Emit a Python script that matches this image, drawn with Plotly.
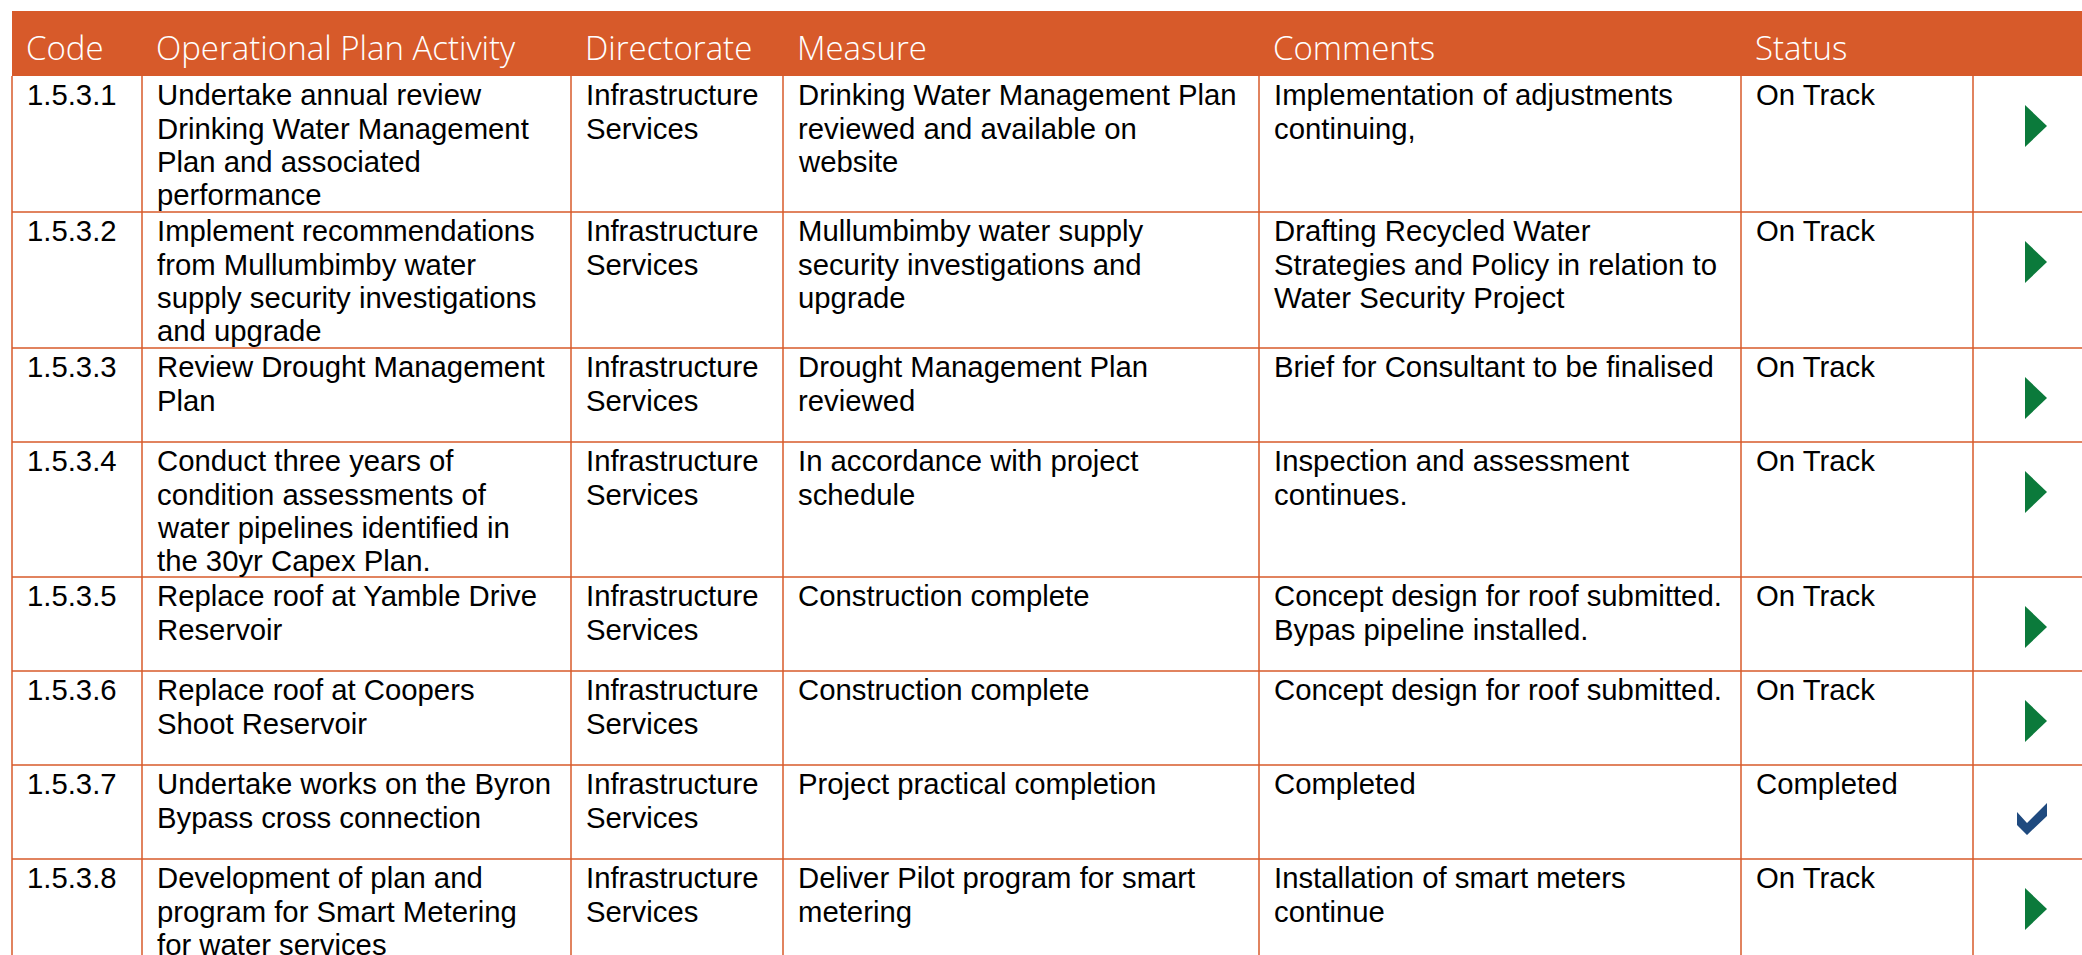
import plotly.graph_objects as go

# ---------------- data ----------------
headers = ["Code", "Operational Plan Activity", "Directorate", "Measure", "Comments", "Status"]
codes = ["1.5.3.1", "1.5.3.2", "1.5.3.3", "1.5.3.4", "1.5.3.5", "1.5.3.6", "1.5.3.7", "1.5.3.8"]
activities = [
    "Undertake annual review\nDrinking Water Management\nPlan and associated\nperformance",
    "Implement recommendations\nfrom Mullumbimby water\nsupply security investigations\nand upgrade",
    "Review Drought Management\nPlan",
    "Conduct three years of\ncondition assessments of\nwater pipelines identified in\nthe 30yr Capex Plan.",
    "Replace roof at Yamble Drive\nReservoir",
    "Replace roof at Coopers\nShoot Reservoir",
    "Undertake works on the Byron\nBypass cross connection",
    "Development of plan and\nprogram for Smart Metering\nfor water services",
]
directorates = ["Infrastructure\nServices"] * 8
measures = [
    "Drinking Water Management Plan\nreviewed and available on\nwebsite",
    "Mullumbimby water supply\nsecurity investigations and\nupgrade",
    "Drought Management Plan\nreviewed",
    "In accordance with project\nschedule",
    "Construction complete",
    "Construction complete",
    "Project practical completion",
    "Deliver Pilot program for smart\nmetering",
]
comments = [
    "Implementation of adjustments\ncontinuing,",
    "Drafting Recycled Water\nStrategies and Policy in relation to\nWater Security Project",
    "Brief for Consultant to be finalised",
    "Inspection and assessment\ncontinues.",
    "Concept design for roof submitted.\nBypas pipeline installed.",
    "Concept design for roof submitted.",
    "Completed",
    "Installation of smart meters\ncontinue",
]
statuses = ["On Track", "On Track", "On Track", "On Track", "On Track", "On Track", "Completed", "On Track"]

# ---------------- layout geometry (pixels) ----------------
W, H = 2082, 955
col_edges = [12, 142, 571, 783, 1259, 1741, 1973, 2082]
header_top, header_bottom = 11, 76
row_heights = [136, 136, 94, 135, 94, 94, 94, 136]
pad_x = 13
baseline_off = 29
line_pitch = 33.3
body_size = 29.3
header_size = 33

ORANGE = "#D75A2A"
GREEN = "#0B7A3B"
NAVY = "#1F4A7F"

row_tops = [header_bottom]
for h in row_heights:
    row_tops.append(row_tops[-1] + h)

fig = go.Figure()
shapes = []
annotations = []

# header band
shapes.append(dict(type="rect", xref="x", yref="y", x0=col_edges[0], x1=col_edges[-1],
                   y0=header_top, y1=header_bottom, fillcolor=ORANGE, line=dict(width=0), layer="below"))
for j, htxt in enumerate(headers):
    annotations.append(dict(x=col_edges[j] + pad_x - 1, y=60 - 0.388 * header_size, xref="x", yref="y",
                            text=htxt, showarrow=False, xanchor="left", yanchor="middle",
                            font=dict(family="Open Sans", size=header_size, color="white", weight=300)))

# grid lines
for yb in row_tops[1:]:
    shapes.append(dict(type="line", xref="x", yref="y", x0=col_edges[0], x1=col_edges[-1],
                       y0=yb, y1=yb, line=dict(color=ORANGE, width=1.5)))
for xe in col_edges[:-1]:
    shapes.append(dict(type="line", xref="x", yref="y", x0=xe, x1=xe,
                       y0=header_bottom, y1=H + 5, line=dict(color=ORANGE, width=1.5)))

# cell text
columns = [codes, activities, directorates, measures, comments, statuses]
for i in range(len(codes)):
    top = row_tops[i]
    for j, col in enumerate(columns):
        for k, line in enumerate(col[i].split("\n")):
            base = top + baseline_off + k * line_pitch
            annotations.append(dict(x=col_edges[j] + pad_x, y=base - 0.3465 * body_size,
                                    xref="x", yref="y", text=line, showarrow=False,
                                    xanchor="left", yanchor="middle",
                                    font=dict(family="Liberation Sans, Arial", size=body_size, color="black")))

# status icons
icon_cx = col_edges[6] + 63
for i, st in enumerate(statuses):
    top = row_tops[i]
    if st == "Completed":
        pts = [(icon_cx - 19, top + 47), (icon_cx - 9, top + 58), (icon_cx + 11, top + 38),
               (icon_cx + 11, top + 51), (icon_cx - 9, top + 70), (icon_cx - 19, top + 60)]
        color = NAVY
    else:
        pts = [(icon_cx - 11, top + 29), (icon_cx + 11, top + 50), (icon_cx - 11, top + 71)]
        color = GREEN
    path = "M " + " L ".join(f"{x},{y}" for x, y in pts) + " Z"
    shapes.append(dict(type="path", xref="x", yref="y", path=path, fillcolor=color,
                       line=dict(width=0)))

fig.update_layout(
    width=W, height=H, autosize=False,
    margin=dict(l=0, r=0, t=0, b=0),
    paper_bgcolor="white", plot_bgcolor="white",
    xaxis=dict(range=[0, W], visible=False, fixedrange=True),
    yaxis=dict(range=[H, 0], visible=False, fixedrange=True),
    shapes=shapes, annotations=annotations, showlegend=False,
)
fig.write_html("out.html", config={"displayModeBar": False},
               post_script="document.body.style.margin='0';document.body.style.overflow='hidden';")
